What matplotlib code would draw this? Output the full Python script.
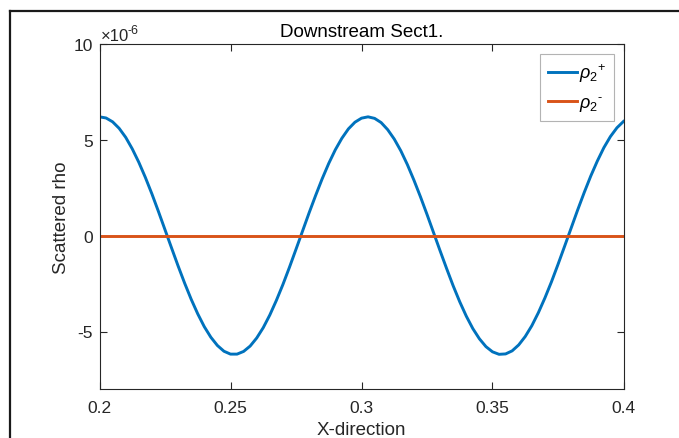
import numpy as np
import matplotlib
matplotlib.use('Agg')
import matplotlib.pyplot as plt
from matplotlib.lines import Line2D
from matplotlib.ticker import FuncFormatter

plt.rcParams['font.family'] = ['Liberation Sans', 'DejaVu Sans']
plt.rcParams['mathtext.fontset'] = 'custom'
plt.rcParams['mathtext.rm'] = 'Liberation Sans'
plt.rcParams['mathtext.it'] = 'Liberation Sans:italic'

# x positions and scattered rho (units of 1e-6)
x = [0.2000, 0.2025, 0.2050, 0.2075, 0.2100, 0.2125, 0.2150, 0.2175, 0.2200, 0.2225,
     0.2250, 0.2275, 0.2300, 0.2325, 0.2350, 0.2375, 0.2400, 0.2425, 0.2450, 0.2475,
     0.2500, 0.2525, 0.2550, 0.2575, 0.2600, 0.2625, 0.2650, 0.2675, 0.2700, 0.2725,
     0.2750, 0.2775, 0.2800, 0.2825, 0.2850, 0.2875, 0.2900, 0.2925, 0.2950, 0.2975,
     0.3000, 0.3025, 0.3050, 0.3075, 0.3100, 0.3125, 0.3150, 0.3175, 0.3200, 0.3225,
     0.3250, 0.3275, 0.3300, 0.3325, 0.3350, 0.3375, 0.3400, 0.3425, 0.3450, 0.3475,
     0.3500, 0.3525, 0.3550, 0.3575, 0.3600, 0.3625, 0.3650, 0.3675, 0.3700, 0.3725,
     0.3750, 0.3775, 0.3800, 0.3825, 0.3850, 0.3875, 0.3900, 0.3925, 0.3950, 0.3975,
     0.4000]
rho_plus = [6.20, 6.14, 5.94, 5.60, 5.13, 4.53, 3.83, 3.04, 2.18, 1.26,
            0.31, -0.64, -1.58, -2.48, -3.32, -4.08, -4.75, -5.30, -5.73, -6.03,
            -6.18, -6.18, -6.04, -5.76, -5.34, -4.80, -4.14, -3.38, -2.55, -1.65,
            -0.71, 0.24, 1.19, 2.10, 2.97, 3.77, 4.48, 5.08, 5.57, 5.92,
            6.13, 6.20, 6.12, 5.90, 5.53, 5.04, 4.43, 3.71, 2.90, 2.03,
            1.11, 0.16, -0.79, -1.72, -2.62, -3.45, -4.20, -4.85, -5.38, -5.79,
            -6.06, -6.19, -6.17, -6.01, -5.70, -5.26, -4.70, -4.02, -3.25, -2.41,
            -1.50, -0.56, 0.39, 1.34, 2.25, 3.11, 3.89, 4.59, 5.17, 5.63,
            5.96]
rho_minus = [0.0] * len(x)

xticks = [0.2, 0.25, 0.3, 0.35, 0.4]
yticks = [-5, 0, 5, 10]

blue = '#0072BD'
orange = '#D95319'
dark = '#262626'

fig = plt.figure(figsize=(6.79, 4.39), dpi=100)
ax = fig.add_axes([99.5 / 679, 1 - 390 / 439, 524 / 679, 345 / 439])

scale = 1e-6
ax.plot(x, np.array(rho_plus) * scale, color=blue, lw=2.1, label=r'$\rho_{2}{}^{+}$')
ax.plot(x, np.array(rho_minus) * scale, color=orange, lw=2.1, label=r'$\rho_{2}{}^{\mathbf{\text{-}}}$')

ax.set_xlim(0.2, 0.4)
ax.set_ylim(-8e-6, 10e-6)
ax.set_xticks(xticks)
ax.set_yticks([t * scale for t in yticks])
ax.xaxis.set_major_formatter(FuncFormatter(lambda v, p: '%g' % v))
ax.yaxis.set_major_formatter(FuncFormatter(lambda v, p: '%g' % round(v / scale, 6)))

ax.tick_params(direction='in', length=5, width=0.8, colors=dark, labelsize=12.5,
               top=True, right=True, pad=5)
ax.tick_params(axis='x', pad=8)
for s in ax.spines.values():
    s.set_color(dark)
    s.set_linewidth(0.8)

ax.set_title('Downstream Sect1.', fontsize=13.5, color='black', pad=6)
ax.set_xlabel('X-direction', fontsize=13.5, color=dark, labelpad=4)
ax.set_ylabel('Scattered rho', fontsize=13.5, color=dark, labelpad=2)

# exponent marker above the y axis
ax.text(1.5 / 524, 4 / 345 + 1, '\u00d710', transform=ax.transAxes, fontsize=12,
        color=dark, ha='left', va='baseline')
ax.text(28.5 / 524, 11 / 345 + 1, '-6', transform=ax.transAxes, fontsize=9,
        color=dark, ha='left', va='baseline')

leg = ax.legend(loc='upper right', fontsize=13, frameon=True, fancybox=False,
                edgecolor='#A0A0A0', handlelength=1.65, handletextpad=0.1,
                borderaxespad=0.55, labelspacing=0.55, borderpad=0.4)
leg.get_frame().set_linewidth(0.8)

# outer frame
fx = 10 / 679
fy = 1 - 12 / 439
fig.add_artist(Line2D([fx, fx], [0, fy], transform=fig.transFigure, color='#1a1a1a', lw=1.6))
fig.add_artist(Line2D([fx, 1], [fy, fy], transform=fig.transFigure, color='#1a1a1a', lw=1.6))

fig.savefig('out.png', dpi=100)
